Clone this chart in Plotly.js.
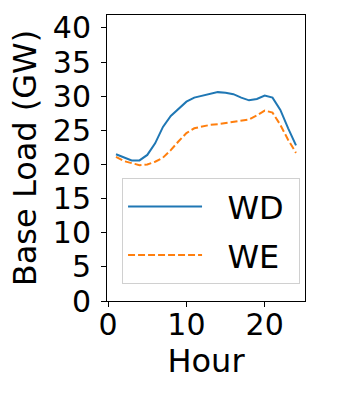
<!DOCTYPE html>
<html>
<head>
<meta charset="utf-8">
<script src="https://cdn.plot.ly/plotly-3.0.1.min.js"></script>
<style>
  body { margin: 0; background: #fff; }
  #chart { width: 340px; height: 396px; }
</style>
</head>
<body>
<div id="chart"></div>
<script>
// hourly base load, weekday vs weekend
const hours = [1, 2, 3, 4, 5, 6, 7, 8, 9, 10, 11, 12, 13, 14, 15, 16, 17, 18, 19, 20, 21, 22, 23, 24];
const wd = [21.5, 21.0, 20.6, 20.6, 21.4, 23.1, 25.5, 27.1, 28.2, 29.2, 29.8, 30.1,
            30.4, 30.6, 30.5, 30.3, 29.8, 29.4, 29.6, 30.1, 29.8, 28.0, 25.3, 22.8];
const we = [21.1, 20.5, 20.2, 19.9, 20.0, 20.4, 21.0, 22.1, 23.4, 24.6, 25.3, 25.6,
            25.8, 25.9, 26.1, 26.2, 26.4, 26.6, 27.2, 27.9, 27.6, 25.8, 23.6, 21.7];
const yTicks = [0, 5, 10, 15, 20, 25, 30, 35, 40];
const xTicks = [0, 10, 20];

const font = 'DejaVu Sans, sans-serif';

const data = [
    {
        x: hours,
        y: wd,
        type: 'scatter',
        mode: 'lines',
        name: '\u00a0\u00a0WD\u00a0',
        legendgroup: 'wd',
        line: {color: '#1f77b4', width: 2}
    },
    {
        x: hours,
        y: we,
        type: 'scatter',
        mode: 'lines',
        name: '\u00a0\u00a0WE',
        legendgroup: 'we',
        line: {color: '#ff7f0e', width: 2, dash: '7px,3px'}
    }
];

const layout = {
    width: 340,
    height: 396,
    margin: {l: 107, r: 35, t: 15, b: 95},
    paper_bgcolor: '#fff',
    plot_bgcolor: '#fff',
    font: {family: font, color: '#000', size: 30},
    showlegend: true,
    legend: {
        x: 0.076, xanchor: 'left',
        y: 0.059, yanchor: 'bottom',
        bgcolor: 'rgba(255,255,255,0.8)',
        bordercolor: '#d0d0d0',
        borderwidth: 1,
        font: {family: font, size: 32, color: '#000'},
        itemwidth: 74,
        tracegroupgap: 4
    },
    xaxis: {
        range: [-0.15, 25.15],
        tickvals: xTicks,
        ticks: 'outside',
        ticklen: 5,
        ticklabelstandoff: -8,
        tickcolor: '#000',
        showgrid: false,
        zeroline: false,
        showline: true,
        linecolor: '#000',
        linewidth: 1,
        mirror: true,
        tickfont: {family: font, size: 30},
        title: {text: 'Hour', font: {family: font, size: 32}, standoff: 4}
    },
    yaxis: {
        range: [0, 41.9],
        tickvals: yTicks,
        ticks: 'outside',
        ticklen: 5,
        ticklabelstandoff: 4,
        tickcolor: '#000',
        showgrid: false,
        zeroline: false,
        showline: true,
        linecolor: '#000',
        linewidth: 1,
        mirror: true,
        tickfont: {family: font, size: 30},
        title: {text: 'Base Load (GW)', font: {family: font, size: 32}, standoff: 6}
    }
};

Plotly.newPlot('chart', data, layout, {displayModeBar: false, staticPlot: true});
</script>
</body>
</html>
